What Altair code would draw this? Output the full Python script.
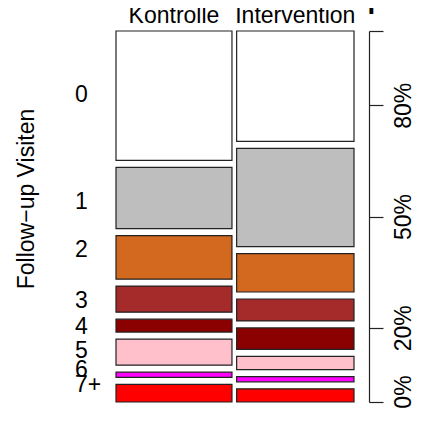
"""
Mosaic (spine) plot: follow-up visits per patient, Kontrolle vs Intervention.

Tiles are plain rects on a share/share grid; the row labels, column
headers and the percentage axis on the right are extra layers so the
picture reads like the base-R mosaicplot it was copied from.
"""

import altair as alt
import pandas as pd

# ── Data ──────────────────────────────────────────────────────────
LEVELS = ["0", "1", "2", "3", "4", "5", "6", "7+"]
GROUPS = ["Kontrolle", "Intervention"]
GROUP_SHARE = [49.7, 50.3]  # column widths, % of all patients
KONTROLLE_PCT = [40.2, 19.0, 13.5, 8.1, 4.0, 8.1, 1.6, 5.5]
INTERVENTION_PCT = [34.3, 30.5, 11.9, 6.8, 6.7, 4.1, 1.6, 4.1]
PCT_TICKS = [0, 0.2, 0.5, 0.8, 1.0]

TITLE = "Patientinnen mit einer Follow-Up Visite"
Y_TITLE = "Follow\u2212up Visiten"

# ── Styles ────────────────────────────────────────────────────────
FONT = "Liberation Sans"
INK = "#000000"
EDGE = "#222222"
LEVEL_COLOURS = ["#FFFFFF", "#BEBEBE", "#D2691E", "#A52A2A",
                 "#8B0000", "#FFC0CB", "#FF00FF", "#FF0000"]
# small vertical nudges (px) of the row labels, as in the original
LABEL_NUDGE = [-1, 4, -7, 2, 1, -1, -5, -8]

W, H = 238, 371
GAP_X = 0.02    # share units between the two spines
GAP_Y = 0.0217  # share units between stacked tiles
Y_MAX = 1 + GAP_Y * (len(LEVELS) - 1)
X_MAX = 1 + GAP_X

# ── Tile geometry from the shares ─────────────────────────────────
rows = []
x0 = 0.0
for group, share, pcts in zip(GROUPS, GROUP_SHARE, [KONTROLLE_PCT, INTERVENTION_PCT]):
    x1 = x0 + share / 100
    y0 = 0.0
    for lvl, p in zip(LEVELS, pcts):
        rows.append(dict(group=group, level=lvl, x=x0, x2=x1,
                         y=y0, y2=y0 + p / 100, pct=p))
        y0 += p / 100 + GAP_Y
    x0 = x1 + GAP_X
tiles = pd.DataFrame(rows)

first = tiles[tiles.group == GROUPS[0]].reset_index(drop=True)
px_per_unit = H / Y_MAX
labels = pd.DataFrame({
    "level": LEVELS,
    "y": (first.y + first.y2) / 2 + pd.Series(LABEL_NUDGE) / px_per_unit,
})
heads = (tiles.groupby("group", sort=False)[["x", "x2"]].first()
         .assign(xc=lambda d: (d.x + d.x2) / 2).reset_index())

x_scale = alt.Scale(domain=[0, X_MAX], nice=False, zero=False)
y_scale = alt.Scale(domain=[0, Y_MAX], nice=False, zero=False, reverse=True)

tile_layer = alt.Chart(tiles).mark_rect(stroke=EDGE, strokeWidth=1.2).encode(
    x=alt.X("x:Q", scale=x_scale, axis=None),
    x2="x2:Q",
    y=alt.Y("y:Q", scale=y_scale, axis=None),
    y2="y2:Q",
    fill=alt.Fill("level:N", sort=LEVELS,
                  scale=alt.Scale(domain=LEVELS, range=LEVEL_COLOURS), legend=None),
    tooltip=["group:N", "level:N", alt.Tooltip("pct:Q", title="%")],
)

row_labels = alt.Chart(labels).mark_text(
    font=FONT, fontSize=23, color=INK, align="left", baseline="middle"
).encode(
    x=alt.value(-41),
    y=alt.Y("y:Q", scale=y_scale, axis=None),
    text="level:N",
)

col_heads = alt.Chart(heads).mark_text(
    font=FONT, fontSize=23, color=INK, align="center", baseline="alphabetic"
).encode(
    x=alt.X("xc:Q", scale=x_scale, axis=None),
    y=alt.value(-8),
    text="group:N",
)

y_title = alt.Chart(pd.DataFrame({"t": [Y_TITLE]})).mark_text(
    font=FONT, fontSize=23, color=INK, angle=270, align="center", baseline="middle"
).encode(x=alt.value(-89), y=alt.value(168), text="t:N")

main_title = alt.Chart(pd.DataFrame({"t": [TITLE]})).mark_text(
    font=FONT, fontSize=27.6, fontWeight="bold", color=INK,
    align="center", baseline="alphabetic"
).encode(x=alt.value(94), y=alt.value(-23), text="t:N")

# "0%" sits at the very bottom edge; drawn on its own, nudged up to stay whole
zero_label = alt.Chart(pd.DataFrame({"t": ["0%"]})).mark_text(
    font=FONT, fontSize=23, color=INK, angle=270, align="center", baseline="middle"
).encode(x=alt.value(W + 50), y=alt.value(H - 10), text="t:N")

mosaic = alt.layer(tile_layer, row_labels, col_heads, y_title, main_title, zero_label)

pct_axis = alt.Chart(pd.DataFrame({"p": [0.0, 1.0]})).mark_point(opacity=0).encode(
    y=alt.Y(
        "p:Q",
        scale=alt.Scale(domain=[0, 1], nice=False),
        axis=alt.Axis(
            orient="right", values=PCT_TICKS, format=".0%",
            labelExpr="datum.value <= 0 || datum.value >= 1 ? '' : datum.label",
            offset=15, tickSize=14, labelPadding=9,
            labelAngle=270, labelAlign="center", labelBaseline="top",
            labelFont=FONT, labelFontSize=23, labelColor=INK,
            labelFlush=False, labelOverlap=False,
            domainColor=EDGE, tickColor=EDGE, domainWidth=1.2, tickWidth=1.2,
            grid=False, title=None,
        ),
    ),
)

chart = (
    alt.layer(mosaic, pct_axis)
    .resolve_scale(y="independent")
    .properties(
        width=W, height=H,
        autosize=alt.AutoSizeParams(type="none"),
        padding={"left": 108, "top": 23, "right": 61, "bottom": 8},
        background="white",
    )
    .configure_view(stroke=None)
)

chart.save("out.html", embed_options={"renderer": "svg", "actions": False})
